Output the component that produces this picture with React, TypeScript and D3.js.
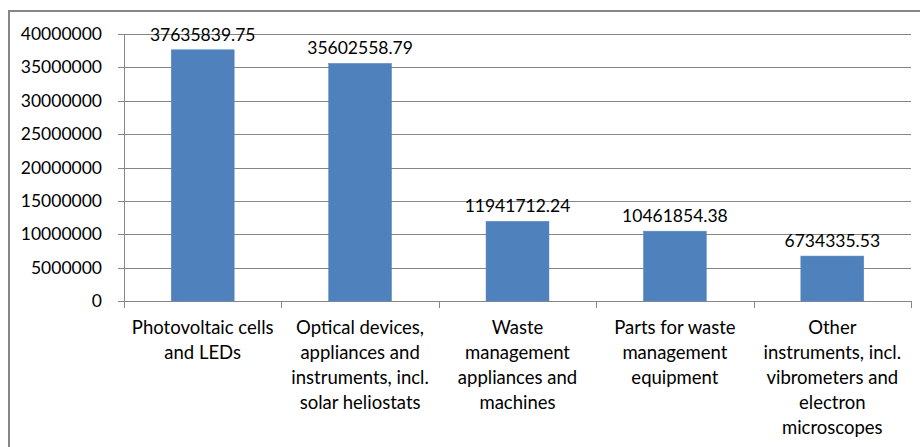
import React from 'react';
import * as d3 from 'd3';

const categories = [
  'Photovoltaic cells and LEDs',
  'Optical devices, appliances and instruments, incl. solar heliostats',
  'Waste management appliances and machines',
  'Parts for waste management equipment',
  'Other instruments, incl. vibrometers and electron microscopes',
];
const categoryLines = [
  ['Photovoltaic cells', 'and LEDs'],
  ['Optical devices,', 'appliances and', 'instruments, incl.', 'solar heliostats'],
  ['Waste', 'management', 'appliances and', 'machines'],
  ['Parts for waste', 'management', 'equipment'],
  ['Other', 'instruments, incl.', 'vibrometers and', 'electron', 'microscopes'],
];
const values = [37635839.75, 35602558.79, 11941712.24, 10461854.38, 6734335.53];
const yTicks = [0, 5000000, 10000000, 15000000, 20000000, 25000000, 30000000, 35000000, 40000000];

const W = 920;
const H = 447;
const plot = { left: 124, right: 911, top: 34, bottom: 301 };
const font = 'Lato, "Open Sans", sans-serif';
const grid = '#868686';

const App = () => {
  const x = d3.scaleBand<string>().domain(categories).range([plot.left, plot.right]).padding(0);
  const y = d3.scaleLinear().domain([0, 40000000]).range([plot.bottom, plot.top]);
  const barW = x.bandwidth() * 0.4;
  const fmt = d3.format('d');

  return (
    <svg width={W} height={H} style={{ position: 'absolute', left: 0, top: 0, display: 'block' }}>
      <rect x={0} y={0} width={W} height={H} fill="#fff" />
      {/* chart area border */}
      <line x1={9} x2={W} y1={11} y2={11} stroke={grid} strokeWidth={2} />
      <line x1={9} x2={9} y1={10} y2={H} stroke={grid} strokeWidth={2} />

      {/* gridlines and y labels */}
      {yTicks.map(t => (
        <g key={t}>
          <line x1={plot.left - 6} x2={plot.right} y1={Math.round(y(t)) + 0.5} y2={Math.round(y(t)) + 0.5} stroke={grid} strokeWidth={1} />
          <text x={102} y={y(t) + 6} textAnchor="end" fontFamily={font} fontSize={17.5} fill="#000">{fmt(t)}</text>
        </g>
      ))}
      <line x1={plot.left + 0.5} x2={plot.left + 0.5} y1={plot.top} y2={plot.bottom + 7} stroke={grid} strokeWidth={1} />
      {categories.map(c => (
        <line key={c} x1={Math.round((x(c) as number) + x.bandwidth()) + 0.5} x2={Math.round((x(c) as number) + x.bandwidth()) + 0.5}
          y1={plot.bottom} y2={plot.bottom + 7} stroke={grid} strokeWidth={1} />
      ))}

      {/* bars */}
      {categories.map((c, i) => {
        const cx = (x(c) as number) + x.bandwidth() / 2;
        return (
          <g key={c}>
            <rect x={cx - barW / 2} y={y(values[i])} width={barW} height={plot.bottom - y(values[i])} fill="#4F81BD" stroke="#5a8ac6" strokeWidth={0.5} />
            <text x={cx} y={y(values[i]) - 9} textAnchor="middle" fontFamily={font} fontSize={17.5} fill="#000">{values[i].toFixed(2)}</text>
            {categoryLines[i].map((ln, j) => (
              <text key={j} x={cx} y={334 + j * 25} textAnchor="middle" fontFamily={font} fontSize={18.5} fill="#000">{ln}</text>
            ))}
          </g>
        );
      })}
    </svg>
  );
};

export default App;
